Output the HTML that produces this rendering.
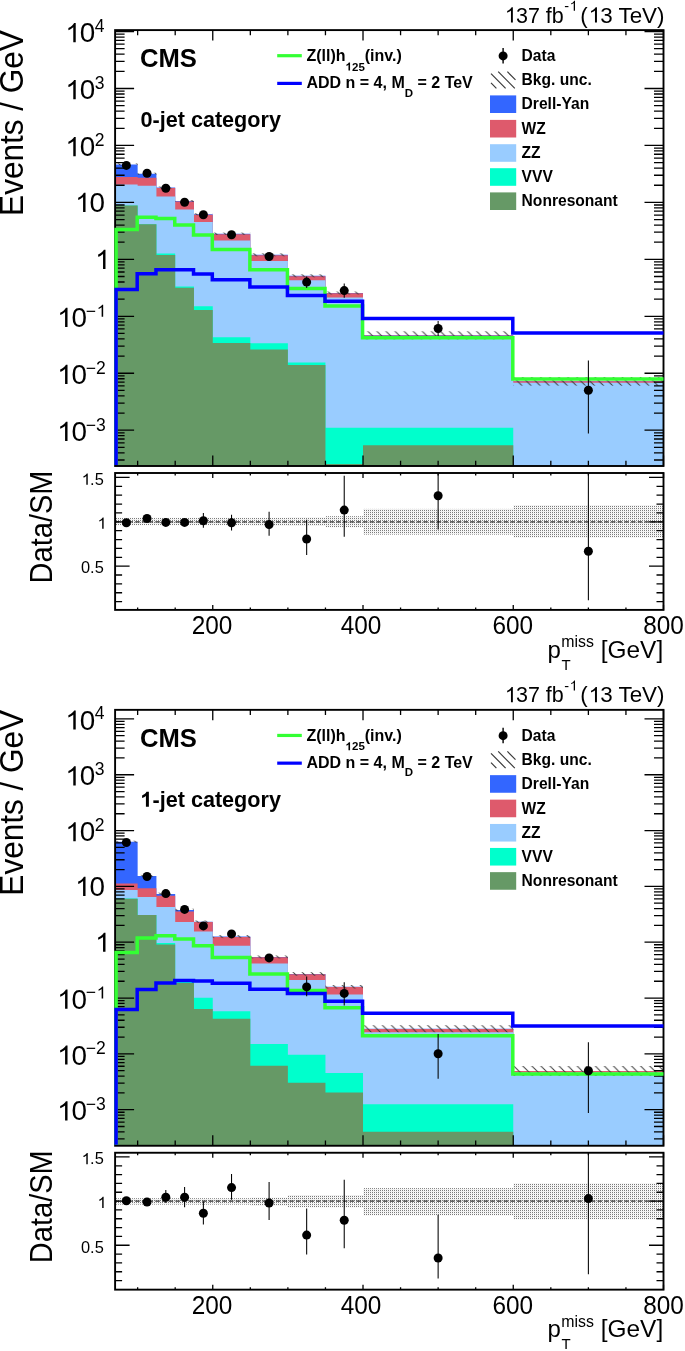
<!DOCTYPE html><html><head><meta charset="utf-8"><style>html,body{margin:0;padding:0;background:#fff;width:685px;height:1351px;overflow:hidden}svg{display:block;will-change:transform}text{font-family:"Liberation Sans", sans-serif;fill:#000}</style></head><body>
<svg width="685" height="1351" viewBox="0 0 685 1351">
<defs><pattern id="hatch" patternUnits="userSpaceOnUse" x="0.42" y="0" width="9.06" height="9.06"><path d="M-1,-1 L10.06,10.06 M-10.06,-1 L1,10.06 M8.06,-1 L19.12,10.06" stroke="#3a3a3a" stroke-width="1.0"/></pattern>
<pattern id="dots" patternUnits="userSpaceOnUse" width="2" height="2"><rect width="2" height="2" fill="#f0f0f0"/><rect x="0" y="0" width="1" height="1" fill="#7a7a7a"/><rect x="1" y="0" width="1" height="1" fill="#ffffff"/></pattern></defs>
<rect width="685" height="1351" fill="#fff"/>
<g>
<path d="M115.1,466 L115.1,164.4 L137.64,164.4 L137.64,173.7 L156.42,173.7 L156.42,187.5 L175.2,187.5 L175.2,201 L193.98,201 L193.98,214.3 L212.76,214.3 L212.76,233.8 L250.32,233.8 L250.32,254.8 L287.88,254.8 L287.88,275.8 L325.45,275.8 L325.45,293 L363.01,293 L363.01,335.3 L513.25,335.3 L513.25,381.3 L663.5,381.3 L663.5,466 Z" fill="#3366ff"/>
<path d="M115.1,466 L115.1,176.9 L137.64,176.9 L137.64,177.7 L156.42,177.7 L156.42,187.9 L175.2,187.9 L175.2,201.5 L193.98,201.5 L193.98,214.7 L212.76,214.7 L212.76,234.2 L250.32,234.2 L250.32,255.2 L287.88,255.2 L287.88,276.2 L325.45,276.2 L325.45,293.3 L363.01,293.3 L363.01,335.5 L513.25,335.5 L513.25,381.3 L663.5,381.3 L663.5,466 Z" fill="#de5a6c"/>
<path d="M115.1,466 L115.1,184.5 L137.64,184.5 L137.64,185.8 L156.42,185.8 L156.42,196.5 L175.2,196.5 L175.2,209.5 L193.98,209.5 L193.98,221.9 L212.76,221.9 L212.76,240.5 L250.32,240.5 L250.32,261.1 L287.88,261.1 L287.88,280.2 L325.45,280.2 L325.45,297.6 L363.01,297.6 L363.01,336.5 L513.25,336.5 L513.25,382.8 L663.5,382.8 L663.5,466 Z" fill="#99ccff"/>
<path d="M115.1,466 L115.1,205.5 L137.64,205.5 L137.64,224.3 L156.42,224.3 L156.42,253.5 L175.2,253.5 L175.2,286.6 L193.98,286.6 L193.98,306.2 L212.76,306.2 L212.76,337.3 L250.32,337.3 L250.32,343.3 L287.88,343.3 L287.88,362.4 L325.45,362.4 L325.45,427.8 L363.01,427.8 L363.01,427.8 L513.25,427.8 L513.25,466 L663.5,466 L663.5,466 Z" fill="#00ffcc"/>
<path d="M115.1,466 L115.1,205.5 L137.64,205.5 L137.64,224.3 L156.42,224.3 L156.42,255 L175.2,255 L175.2,287.7 L193.98,287.7 L193.98,309.9 L212.76,309.9 L212.76,343.1 L250.32,343.1 L250.32,349.6 L287.88,349.6 L287.88,365 L325.45,365 L325.45,463.9 L363.01,463.9 L363.01,445.2 L513.25,445.2 L513.25,466 L663.5,466 L663.5,466 Z" fill="#669966"/>
<rect x="115.1" y="163.4" width="22.54" height="2" fill="url(#hatch)"/>
<rect x="137.64" y="172.7" width="18.78" height="2" fill="url(#hatch)"/>
<rect x="156.42" y="186.5" width="18.78" height="2" fill="url(#hatch)"/>
<rect x="175.2" y="200" width="18.78" height="2" fill="url(#hatch)"/>
<rect x="193.98" y="213.3" width="18.78" height="2" fill="url(#hatch)"/>
<rect x="212.76" y="232.6" width="37.56" height="2.4" fill="url(#hatch)"/>
<rect x="250.32" y="253.3" width="37.56" height="3" fill="url(#hatch)"/>
<rect x="287.88" y="274.3" width="37.56" height="3" fill="url(#hatch)"/>
<rect x="325.45" y="291.5" width="37.56" height="3" fill="url(#hatch)"/>
<rect x="363.01" y="331.3" width="150.25" height="8" fill="url(#hatch)"/>
<rect x="513.25" y="377" width="150.25" height="8.6" fill="url(#hatch)"/>
</g>
<rect x="115.1" y="30.1" width="548.4" height="435.9" fill="none" stroke="#000" stroke-width="1.9"/>
<path d="M115.1,459.98 h9.5 M663.5,459.98 h-9.5 M115.1,452.86 h9.5 M663.5,452.86 h-9.5 M115.1,447.34 h9.5 M663.5,447.34 h-9.5 M115.1,442.83 h9.5 M663.5,442.83 h-9.5 M115.1,439.02 h9.5 M663.5,439.02 h-9.5 M115.1,435.72 h9.5 M663.5,435.72 h-9.5 M115.1,432.81 h9.5 M663.5,432.81 h-9.5 M115.1,430.2 h19 M663.5,430.2 h-19 M115.1,413.06 h9.5 M663.5,413.06 h-9.5 M115.1,403.03 h9.5 M663.5,403.03 h-9.5 M115.1,395.91 h9.5 M663.5,395.91 h-9.5 M115.1,390.39 h9.5 M663.5,390.39 h-9.5 M115.1,385.88 h9.5 M663.5,385.88 h-9.5 M115.1,382.07 h9.5 M663.5,382.07 h-9.5 M115.1,378.77 h9.5 M663.5,378.77 h-9.5 M115.1,375.86 h9.5 M663.5,375.86 h-9.5 M115.1,373.25 h19 M663.5,373.25 h-19 M115.1,356.11 h9.5 M663.5,356.11 h-9.5 M115.1,346.08 h9.5 M663.5,346.08 h-9.5 M115.1,338.96 h9.5 M663.5,338.96 h-9.5 M115.1,333.44 h9.5 M663.5,333.44 h-9.5 M115.1,328.93 h9.5 M663.5,328.93 h-9.5 M115.1,325.12 h9.5 M663.5,325.12 h-9.5 M115.1,321.82 h9.5 M663.5,321.82 h-9.5 M115.1,318.91 h9.5 M663.5,318.91 h-9.5 M115.1,316.3 h19 M663.5,316.3 h-19 M115.1,299.16 h9.5 M663.5,299.16 h-9.5 M115.1,289.13 h9.5 M663.5,289.13 h-9.5 M115.1,282.01 h9.5 M663.5,282.01 h-9.5 M115.1,276.49 h9.5 M663.5,276.49 h-9.5 M115.1,271.98 h9.5 M663.5,271.98 h-9.5 M115.1,268.17 h9.5 M663.5,268.17 h-9.5 M115.1,264.87 h9.5 M663.5,264.87 h-9.5 M115.1,261.96 h9.5 M663.5,261.96 h-9.5 M115.1,259.35 h19 M663.5,259.35 h-19 M115.1,242.21 h9.5 M663.5,242.21 h-9.5 M115.1,232.18 h9.5 M663.5,232.18 h-9.5 M115.1,225.06 h9.5 M663.5,225.06 h-9.5 M115.1,219.54 h9.5 M663.5,219.54 h-9.5 M115.1,215.03 h9.5 M663.5,215.03 h-9.5 M115.1,211.22 h9.5 M663.5,211.22 h-9.5 M115.1,207.92 h9.5 M663.5,207.92 h-9.5 M115.1,205.01 h9.5 M663.5,205.01 h-9.5 M115.1,202.4 h19 M663.5,202.4 h-19 M115.1,185.26 h9.5 M663.5,185.26 h-9.5 M115.1,175.23 h9.5 M663.5,175.23 h-9.5 M115.1,168.11 h9.5 M663.5,168.11 h-9.5 M115.1,162.59 h9.5 M663.5,162.59 h-9.5 M115.1,158.08 h9.5 M663.5,158.08 h-9.5 M115.1,154.27 h9.5 M663.5,154.27 h-9.5 M115.1,150.97 h9.5 M663.5,150.97 h-9.5 M115.1,148.06 h9.5 M663.5,148.06 h-9.5 M115.1,145.45 h19 M663.5,145.45 h-19 M115.1,128.31 h9.5 M663.5,128.31 h-9.5 M115.1,118.28 h9.5 M663.5,118.28 h-9.5 M115.1,111.16 h9.5 M663.5,111.16 h-9.5 M115.1,105.64 h9.5 M663.5,105.64 h-9.5 M115.1,101.13 h9.5 M663.5,101.13 h-9.5 M115.1,97.32 h9.5 M663.5,97.32 h-9.5 M115.1,94.02 h9.5 M663.5,94.02 h-9.5 M115.1,91.11 h9.5 M663.5,91.11 h-9.5 M115.1,88.5 h19 M663.5,88.5 h-19 M115.1,71.36 h9.5 M663.5,71.36 h-9.5 M115.1,61.33 h9.5 M663.5,61.33 h-9.5 M115.1,54.21 h9.5 M663.5,54.21 h-9.5 M115.1,48.69 h9.5 M663.5,48.69 h-9.5 M115.1,44.18 h9.5 M663.5,44.18 h-9.5 M115.1,40.37 h9.5 M663.5,40.37 h-9.5 M115.1,37.07 h9.5 M663.5,37.07 h-9.5 M115.1,34.16 h9.5 M663.5,34.16 h-9.5 M115.1,31.55 h19 M663.5,31.55 h-19 M137.64,466 v-5.2 M137.64,30.1 v5.2 M175.2,466 v-5.2 M175.2,30.1 v5.2 M212.76,466 v-10.5 M212.76,30.1 v10.5 M250.32,466 v-5.2 M250.32,30.1 v5.2 M287.88,466 v-5.2 M287.88,30.1 v5.2 M325.45,466 v-5.2 M325.45,30.1 v5.2 M363.01,466 v-10.5 M363.01,30.1 v10.5 M400.57,466 v-5.2 M400.57,30.1 v5.2 M438.13,466 v-5.2 M438.13,30.1 v5.2 M475.69,466 v-5.2 M475.69,30.1 v5.2 M513.25,466 v-10.5 M513.25,30.1 v10.5 M550.82,466 v-5.2 M550.82,30.1 v5.2 M588.38,466 v-5.2 M588.38,30.1 v5.2 M625.94,466 v-5.2 M625.94,30.1 v5.2 M663.5,466 v-10.5 M663.5,30.1 v10.5" stroke="#000" stroke-width="1.3" fill="none"/>
<clipPath id="clip0"><rect x="113.9" y="30.1" width="550.8" height="435"/></clipPath>
<g clip-path="url(#clip0)">
<path d="M116.1,466 L116.1,229.6 L137.19,229.6 L137.19,217.2 L155.97,217.2 L155.97,218.4 L174.75,218.4 L174.75,225 L193.53,225 L193.53,234.9 L212.31,234.9 L212.31,249.5 L249.87,249.5 L249.87,269.8 L287.43,269.8 L287.43,288.5 L325,288.5 L325,306.1 L362.56,306.1 L362.56,337.8 L512.8,337.8 L512.8,379 L663.5,379" fill="none" stroke="#33ff33" stroke-width="3.5" stroke-linejoin="miter"/>
<path d="M116.1,466 L116.1,289.5 L137.19,289.5 L137.19,273.7 L155.97,273.7 L155.97,269.7 L174.75,269.7 L174.75,269.7 L193.53,269.7 L193.53,274 L212.31,274 L212.31,279.7 L249.87,279.7 L249.87,287 L287.43,287 L287.43,295.4 L325,295.4 L325,301.3 L362.56,301.3 L362.56,318.6 L512.8,318.6 L512.8,333 L663.5,333" fill="none" stroke="#0000ff" stroke-width="3.5" stroke-linejoin="miter"/>
</g>
<circle cx="126.37" cy="165.4" r="4.5" fill="#000"/>
<circle cx="147.03" cy="173.2" r="4.5" fill="#000"/>
<circle cx="165.81" cy="188.2" r="4.5" fill="#000"/>
<circle cx="184.59" cy="202.3" r="4.5" fill="#000"/>
<circle cx="203.37" cy="214.7" r="4.5" fill="#000"/>
<circle cx="231.54" cy="234.7" r="4.5" fill="#000"/>
<circle cx="269.1" cy="256.5" r="4.5" fill="#000"/>
<line x1="306.66" y1="276.6" x2="306.66" y2="287.9" stroke="#000" stroke-width="1.05"/>
<circle cx="306.66" cy="282.1" r="4.5" fill="#000"/>
<line x1="344.23" y1="283.4" x2="344.23" y2="297.8" stroke="#000" stroke-width="1.05"/>
<circle cx="344.23" cy="290.6" r="4.5" fill="#000"/>
<line x1="438.13" y1="321.1" x2="438.13" y2="336" stroke="#000" stroke-width="1.05"/>
<circle cx="438.13" cy="328.5" r="4.5" fill="#000"/>
<line x1="588.38" y1="360.5" x2="588.38" y2="433.6" stroke="#000" stroke-width="1.05"/>
<circle cx="588.38" cy="390.2" r="4.5" fill="#000"/>
<text x="85.75" y="430.6" font-size="17.5">−3</text>
<path transform="translate(56.08,440.9) scale(0.013574,-0.013574)" d="M843 0H663V1100Q598 1040 492 981Q386 922 302 892V1059Q453 1127 566 1224Q679 1321 726 1409H843Z"/><text x="71.54" y="440.9" font-size="27.8">0</text>
<text x="85.75" y="373.65" font-size="17.5">−2</text>
<path transform="translate(56.08,383.95) scale(0.013574,-0.013574)" d="M843 0H663V1100Q598 1040 492 981Q386 922 302 892V1059Q453 1127 566 1224Q679 1321 726 1409H843Z"/><text x="71.54" y="383.95" font-size="27.8">0</text>
<text x="85.75" y="316.7" font-size="17.5">−</text><path transform="translate(95.97,316.7) scale(0.008545,-0.008545)" d="M843 0H663V1100Q598 1040 492 981Q386 922 302 892V1059Q453 1127 566 1224Q679 1321 726 1409H843Z"/>
<path transform="translate(56.08,327) scale(0.013574,-0.013574)" d="M843 0H663V1100Q598 1040 492 981Q386 922 302 892V1059Q453 1127 566 1224Q679 1321 726 1409H843Z"/><text x="71.54" y="327" font-size="27.8">0</text>
<path transform="translate(94.04,268.95) scale(0.013574,-0.013574)" d="M843 0H663V1100Q598 1040 492 981Q386 922 302 892V1059Q453 1127 566 1224Q679 1321 726 1409H843Z"/>
<path transform="translate(74.08,212) scale(0.013574,-0.013574)" d="M843 0H663V1100Q598 1040 492 981Q386 922 302 892V1059Q453 1127 566 1224Q679 1321 726 1409H843Z"/><text x="89.54" y="212" font-size="27.8">0</text>
<text x="94.77" y="145.85" font-size="17.5">2</text>
<path transform="translate(64.28,156.15) scale(0.013574,-0.013574)" d="M843 0H663V1100Q598 1040 492 981Q386 922 302 892V1059Q453 1127 566 1224Q679 1321 726 1409H843Z"/><text x="79.74" y="156.15" font-size="27.8">0</text>
<text x="94.77" y="88.9" font-size="17.5">3</text>
<path transform="translate(64.28,99.2) scale(0.013574,-0.013574)" d="M843 0H663V1100Q598 1040 492 981Q386 922 302 892V1059Q453 1127 566 1224Q679 1321 726 1409H843Z"/><text x="79.74" y="99.2" font-size="27.8">0</text>
<text x="94.77" y="31.95" font-size="17.5">4</text>
<path transform="translate(64.28,42.25) scale(0.013574,-0.013574)" d="M843 0H663V1100Q598 1040 492 981Q386 922 302 892V1059Q453 1127 566 1224Q679 1321 726 1409H843Z"/><text x="79.74" y="42.25" font-size="27.8">0</text>
<rect x="115.1" y="517.8" width="22.54" height="7.4" fill="url(#dots)"/>
<rect x="137.64" y="517.8" width="18.78" height="7.4" fill="url(#dots)"/>
<rect x="156.42" y="517.8" width="18.78" height="7.4" fill="url(#dots)"/>
<rect x="175.2" y="517.8" width="18.78" height="7.4" fill="url(#dots)"/>
<rect x="193.98" y="517.8" width="18.78" height="7.4" fill="url(#dots)"/>
<rect x="212.76" y="517.8" width="37.56" height="7.4" fill="url(#dots)"/>
<rect x="250.32" y="517.8" width="37.56" height="7.7" fill="url(#dots)"/>
<rect x="287.88" y="517.5" width="37.56" height="8.3" fill="url(#dots)"/>
<rect x="325.45" y="516.2" width="37.56" height="11" fill="url(#dots)"/>
<rect x="363.01" y="508.9" width="150.25" height="25.7" fill="url(#dots)"/>
<rect x="513.25" y="505.2" width="150.25" height="32.3" fill="url(#dots)"/>
<line x1="115.1" y1="521.8" x2="663.5" y2="521.8" stroke="#333" stroke-width="1.2" stroke-dasharray="4.5,2.2"/>
<circle cx="126.37" cy="522.8" r="4.5" fill="#000"/>
<circle cx="147.03" cy="518.5" r="4.5" fill="#000"/>
<circle cx="165.81" cy="522.4" r="4.5" fill="#000"/>
<circle cx="184.59" cy="522.4" r="4.5" fill="#000"/>
<line x1="203.37" y1="513" x2="203.37" y2="527.7" stroke="#000" stroke-width="1.05"/>
<circle cx="203.37" cy="520.7" r="4.5" fill="#000"/>
<line x1="231.54" y1="514.7" x2="231.54" y2="530.5" stroke="#000" stroke-width="1.05"/>
<circle cx="231.54" cy="522.8" r="4.5" fill="#000"/>
<line x1="269.1" y1="511.7" x2="269.1" y2="535.8" stroke="#000" stroke-width="1.05"/>
<circle cx="269.1" cy="524.6" r="4.5" fill="#000"/>
<line x1="306.66" y1="519.8" x2="306.66" y2="555.1" stroke="#000" stroke-width="1.05"/>
<circle cx="306.66" cy="539" r="4.5" fill="#000"/>
<line x1="344.23" y1="475.8" x2="344.23" y2="536.8" stroke="#000" stroke-width="1.05"/>
<circle cx="344.23" cy="510.1" r="4.5" fill="#000"/>
<line x1="438.13" y1="473.2" x2="438.13" y2="529.4" stroke="#000" stroke-width="1.05"/>
<circle cx="438.13" cy="495.7" r="4.5" fill="#000"/>
<line x1="588.38" y1="473.2" x2="588.38" y2="600.3" stroke="#000" stroke-width="1.05"/>
<circle cx="588.38" cy="551.3" r="4.5" fill="#000"/>
<rect x="115.1" y="473" width="548.4" height="136.9" fill="none" stroke="#000" stroke-width="1.9"/>
<path d="M115.1,601.63 h7 M663.5,601.63 h-7 M115.1,592.76 h7 M663.5,592.76 h-7 M115.1,583.89 h7 M663.5,583.89 h-7 M115.1,575.02 h7 M663.5,575.02 h-7 M115.1,566.15 h14.5 M663.5,566.15 h-14.5 M115.1,557.28 h7 M663.5,557.28 h-7 M115.1,548.41 h7 M663.5,548.41 h-7 M115.1,539.54 h7 M663.5,539.54 h-7 M115.1,530.67 h7 M663.5,530.67 h-7 M115.1,521.8 h14.5 M663.5,521.8 h-14.5 M115.1,512.93 h7 M663.5,512.93 h-7 M115.1,504.06 h7 M663.5,504.06 h-7 M115.1,495.19 h7 M663.5,495.19 h-7 M115.1,486.32 h7 M663.5,486.32 h-7 M115.1,477.45 h14.5 M663.5,477.45 h-14.5 M137.64,609.9 v-2.5 M137.64,473 v2.5 M175.2,609.9 v-2.5 M175.2,473 v2.5 M212.76,609.9 v-5 M212.76,473 v5 M250.32,609.9 v-2.5 M250.32,473 v2.5 M287.88,609.9 v-2.5 M287.88,473 v2.5 M325.45,609.9 v-2.5 M325.45,473 v2.5 M363.01,609.9 v-5 M363.01,473 v5 M400.57,609.9 v-2.5 M400.57,473 v2.5 M438.13,609.9 v-2.5 M438.13,473 v2.5 M475.69,609.9 v-2.5 M475.69,473 v2.5 M513.25,609.9 v-5 M513.25,473 v5 M550.82,609.9 v-2.5 M550.82,473 v2.5 M588.38,609.9 v-2.5 M588.38,473 v2.5 M625.94,609.9 v-2.5 M625.94,473 v2.5 M663.5,609.9 v-5 M663.5,473 v5" stroke="#000" stroke-width="1.3" fill="none"/>
<path transform="translate(81,484.75) scale(0.008008,-0.008008)" d="M843 0H663V1100Q598 1040 492 981Q386 922 302 892V1059Q453 1127 566 1224Q679 1321 726 1409H843Z"/><text x="90.12" y="484.75" font-size="16.4">.5</text>
<path transform="translate(96.88,528.7) scale(0.008008,-0.008008)" d="M843 0H663V1100Q598 1040 492 981Q386 922 302 892V1059Q453 1127 566 1224Q679 1321 726 1409H843Z"/>
<text x="81" y="573.45" font-size="16.4">0.5</text>
<text x="191.75" y="634.1" font-size="25.2" textLength="40.62" lengthAdjust="spacingAndGlyphs">200</text>
<text x="340.7" y="634.1" font-size="25.2" textLength="40.62" lengthAdjust="spacingAndGlyphs">400</text>
<text x="492.55" y="634.1" font-size="25.2" textLength="40.62" lengthAdjust="spacingAndGlyphs">600</text>
<text x="643.19" y="634.1" font-size="25.2" textLength="40.62" lengthAdjust="spacingAndGlyphs">800</text>
<text x="547.6" y="657.6" font-size="24">p</text>
<text x="561.2" y="647.2" font-size="15.9">miss</text>
<text x="561.5" y="669.6" font-size="15">T</text>
<text x="600.8" y="657.6" font-size="24.4">[GeV]</text>
<text transform="translate(23.1,30.1) rotate(-90)" font-size="33.3" text-anchor="end" textLength="185.8" lengthAdjust="spacingAndGlyphs">Events / GeV</text>
<text transform="translate(52.2,470.5) rotate(-90)" font-size="32" text-anchor="end" textLength="112.9" lengthAdjust="spacingAndGlyphs">Data/SM</text>
<path transform="translate(504,22.6) scale(0.010502,-0.010937)" d="M843 0H663V1100Q598 1040 492 981Q386 922 302 892V1059Q453 1127 566 1224Q679 1321 726 1409H843Z"/><text x="515.96" y="22.6" font-size="22.4" textLength="47.84" lengthAdjust="spacingAndGlyphs">37 fb</text>
<text x="564.2" y="10.8" font-size="14.5">-</text><path transform="translate(569.03,10.8) scale(0.007080,-0.007080)" d="M843 0H663V1100Q598 1040 492 981Q386 922 302 892V1059Q453 1127 566 1224Q679 1321 726 1409H843Z"/>
<text x="580.26" y="22.6" font-size="22.4">(</text><path transform="translate(587.72,22.6) scale(0.010937,-0.010937)" d="M843 0H663V1100Q598 1040 492 981Q386 922 302 892V1059Q453 1127 566 1224Q679 1321 726 1409H843Z"/><text x="600.18" y="22.6" font-size="22.4">3 TeV)</text>
<text x="140" y="66.9" font-size="25.6" font-weight="bold">CMS</text>
<text x="140.5" y="126.9" font-size="21.6" font-weight="bold">0-jet category</text>
<line x1="277.2" y1="55.7" x2="301.8" y2="55.7" stroke="#33ff33" stroke-width="3.2"/>
<line x1="277.2" y1="83.4" x2="301.8" y2="83.4" stroke="#0000ff" stroke-width="3.2"/>
<text x="306.5" y="60.9" font-size="16" font-weight="bold">Z(ll)h</text>
<path transform="translate(345.59,70.5) scale(0.005615,-0.005615)" d="M795 0H514V1018Q360 879 151 813V1058Q261 1093 390 1189Q519 1285 567 1409H795Z"/><text x="351.99" y="70.5" font-size="11.5" font-weight="bold">25</text>
<text x="364.78" y="60.9" font-size="16" font-weight="bold">(inv.)</text>
<text x="306.5" y="87.9" font-size="16" font-weight="bold">ADD n = 4, M<tspan font-size="11.5" dy="8.8">D</tspan><tspan dy="-8.8"> = 2 TeV</tspan></text>
<line x1="503.1" y1="48" x2="503.1" y2="63.5" stroke="#000" stroke-width="1.4"/>
<circle cx="503.1" cy="55.9" r="4.5" fill="#000"/>
<path d="M491,82.9 L496.4,88.3 M491,73.7 L505.6,88.3 M498.2,71.7 L514.8,88.3 M507.4,71.7 L515.5,79.8" stroke="#3a3a3a" stroke-width="1.2" fill="none"/>
<text x="521.6" y="61" font-size="15.6" font-weight="bold">Data</text>
<text x="521.6" y="85.3" font-size="15.6" font-weight="bold">Bkg. unc.</text>
<rect x="490" y="95.4" width="26.2" height="17.6" fill="#3366ff"/>
<text x="521.6" y="109.3" font-size="15.6" font-weight="bold">Drell-Yan</text>
<rect x="490" y="119.9" width="26.2" height="17.6" fill="#de5a6c"/>
<text x="521.6" y="133.8" font-size="15.6" font-weight="bold">WZ</text>
<rect x="490" y="144.2" width="26.2" height="17.6" fill="#99ccff"/>
<text x="521.6" y="158.1" font-size="15.6" font-weight="bold">ZZ</text>
<rect x="490" y="168.2" width="26.2" height="17.6" fill="#00ffcc"/>
<text x="521.6" y="182.1" font-size="15.6" font-weight="bold">VVV</text>
<rect x="490" y="192.4" width="26.2" height="17.6" fill="#669966"/>
<text x="521.6" y="206.3" font-size="15.6" font-weight="bold">Nonresonant</text>
<g>
<path d="M115.1,1145.75 L115.1,841.7 L137.64,841.7 L137.64,875.9 L156.42,875.9 L156.42,893.9 L175.2,893.9 L175.2,909.9 L193.98,909.9 L193.98,921.7 L212.76,921.7 L212.76,936.6 L250.32,936.6 L250.32,957 L287.88,957 L287.88,974 L325.45,974 L325.45,986.8 L363.01,986.8 L363.01,1028.7 L513.25,1028.7 L513.25,1071 L663.5,1071 L663.5,1145.75 Z" fill="#3366ff"/>
<path d="M115.1,1145.75 L115.1,883.4 L137.64,883.4 L137.64,888.3 L156.42,888.3 L156.42,895.7 L175.2,895.7 L175.2,911.5 L193.98,911.5 L193.98,922 L212.76,922 L212.76,936.9 L250.32,936.9 L250.32,957.2 L287.88,957.2 L287.88,974.3 L325.45,974.3 L325.45,987.1 L363.01,987.1 L363.01,1028.9 L513.25,1028.9 L513.25,1071 L663.5,1071 L663.5,1145.75 Z" fill="#de5a6c"/>
<path d="M115.1,1145.75 L115.1,889.9 L137.64,889.9 L137.64,897.1 L156.42,897.1 L156.42,907 L175.2,907 L175.2,921.9 L193.98,921.9 L193.98,931.6 L212.76,931.6 L212.76,945.8 L250.32,945.8 L250.32,963.5 L287.88,963.5 L287.88,979.9 L325.45,979.9 L325.45,994.6 L363.01,994.6 L363.01,1032.3 L513.25,1032.3 L513.25,1072.2 L663.5,1072.2 L663.5,1145.75 Z" fill="#99ccff"/>
<path d="M115.1,1145.75 L115.1,898.5 L137.64,898.5 L137.64,914.9 L156.42,914.9 L156.42,942.9 L175.2,942.9 L175.2,982 L193.98,982 L193.98,997.8 L212.76,997.8 L212.76,1011.2 L250.32,1011.2 L250.32,1043.9 L287.88,1043.9 L287.88,1054.8 L325.45,1054.8 L325.45,1073 L363.01,1073 L363.01,1104.2 L513.25,1104.2 L513.25,1145.75 L663.5,1145.75 L663.5,1145.75 Z" fill="#00ffcc"/>
<path d="M115.1,1145.75 L115.1,898.7 L137.64,898.7 L137.64,915.1 L156.42,915.1 L156.42,944.5 L175.2,944.5 L175.2,983 L193.98,983 L193.98,1009 L212.76,1009 L212.76,1018.8 L250.32,1018.8 L250.32,1065.8 L287.88,1065.8 L287.88,1082.8 L325.45,1082.8 L325.45,1092.4 L363.01,1092.4 L363.01,1131.8 L513.25,1131.8 L513.25,1145.75 L663.5,1145.75 L663.5,1145.75 Z" fill="#669966"/>
<rect x="115.1" y="840.7" width="22.54" height="2" fill="url(#hatch)"/>
<rect x="137.64" y="874.9" width="18.78" height="2" fill="url(#hatch)"/>
<rect x="156.42" y="892.7" width="18.78" height="2.4" fill="url(#hatch)"/>
<rect x="175.2" y="908.7" width="18.78" height="2.4" fill="url(#hatch)"/>
<rect x="193.98" y="920.5" width="18.78" height="2.4" fill="url(#hatch)"/>
<rect x="212.76" y="935.1" width="37.56" height="3" fill="url(#hatch)"/>
<rect x="250.32" y="955.5" width="37.56" height="3" fill="url(#hatch)"/>
<rect x="287.88" y="972.2" width="37.56" height="3.6" fill="url(#hatch)"/>
<rect x="325.45" y="985" width="37.56" height="3.6" fill="url(#hatch)"/>
<rect x="363.01" y="1025.2" width="150.25" height="7" fill="url(#hatch)"/>
<rect x="513.25" y="1066" width="150.25" height="10" fill="url(#hatch)"/>
</g>
<rect x="115.1" y="709.85" width="548.4" height="435.9" fill="none" stroke="#000" stroke-width="1.9"/>
<path d="M115.1,1138.9 h9.5 M663.5,1138.9 h-9.5 M115.1,1131.93 h9.5 M663.5,1131.93 h-9.5 M115.1,1126.52 h9.5 M663.5,1126.52 h-9.5 M115.1,1122.1 h9.5 M663.5,1122.1 h-9.5 M115.1,1118.36 h9.5 M663.5,1118.36 h-9.5 M115.1,1115.12 h9.5 M663.5,1115.12 h-9.5 M115.1,1112.26 h9.5 M663.5,1112.26 h-9.5 M115.1,1109.71 h19 M663.5,1109.71 h-19 M115.1,1092.9 h9.5 M663.5,1092.9 h-9.5 M115.1,1083.07 h9.5 M663.5,1083.07 h-9.5 M115.1,1076.1 h9.5 M663.5,1076.1 h-9.5 M115.1,1070.69 h9.5 M663.5,1070.69 h-9.5 M115.1,1066.27 h9.5 M663.5,1066.27 h-9.5 M115.1,1062.53 h9.5 M663.5,1062.53 h-9.5 M115.1,1059.29 h9.5 M663.5,1059.29 h-9.5 M115.1,1056.43 h9.5 M663.5,1056.43 h-9.5 M115.1,1053.88 h19 M663.5,1053.88 h-19 M115.1,1037.07 h9.5 M663.5,1037.07 h-9.5 M115.1,1027.24 h9.5 M663.5,1027.24 h-9.5 M115.1,1020.27 h9.5 M663.5,1020.27 h-9.5 M115.1,1014.86 h9.5 M663.5,1014.86 h-9.5 M115.1,1010.44 h9.5 M663.5,1010.44 h-9.5 M115.1,1006.7 h9.5 M663.5,1006.7 h-9.5 M115.1,1003.46 h9.5 M663.5,1003.46 h-9.5 M115.1,1000.6 h9.5 M663.5,1000.6 h-9.5 M115.1,998.05 h19 M663.5,998.05 h-19 M115.1,981.24 h9.5 M663.5,981.24 h-9.5 M115.1,971.41 h9.5 M663.5,971.41 h-9.5 M115.1,964.44 h9.5 M663.5,964.44 h-9.5 M115.1,959.03 h9.5 M663.5,959.03 h-9.5 M115.1,954.61 h9.5 M663.5,954.61 h-9.5 M115.1,950.87 h9.5 M663.5,950.87 h-9.5 M115.1,947.63 h9.5 M663.5,947.63 h-9.5 M115.1,944.77 h9.5 M663.5,944.77 h-9.5 M115.1,942.22 h19 M663.5,942.22 h-19 M115.1,925.41 h9.5 M663.5,925.41 h-9.5 M115.1,915.58 h9.5 M663.5,915.58 h-9.5 M115.1,908.61 h9.5 M663.5,908.61 h-9.5 M115.1,903.2 h9.5 M663.5,903.2 h-9.5 M115.1,898.78 h9.5 M663.5,898.78 h-9.5 M115.1,895.04 h9.5 M663.5,895.04 h-9.5 M115.1,891.8 h9.5 M663.5,891.8 h-9.5 M115.1,888.94 h9.5 M663.5,888.94 h-9.5 M115.1,886.39 h19 M663.5,886.39 h-19 M115.1,869.58 h9.5 M663.5,869.58 h-9.5 M115.1,859.75 h9.5 M663.5,859.75 h-9.5 M115.1,852.78 h9.5 M663.5,852.78 h-9.5 M115.1,847.37 h9.5 M663.5,847.37 h-9.5 M115.1,842.95 h9.5 M663.5,842.95 h-9.5 M115.1,839.21 h9.5 M663.5,839.21 h-9.5 M115.1,835.97 h9.5 M663.5,835.97 h-9.5 M115.1,833.11 h9.5 M663.5,833.11 h-9.5 M115.1,830.56 h19 M663.5,830.56 h-19 M115.1,813.75 h9.5 M663.5,813.75 h-9.5 M115.1,803.92 h9.5 M663.5,803.92 h-9.5 M115.1,796.95 h9.5 M663.5,796.95 h-9.5 M115.1,791.54 h9.5 M663.5,791.54 h-9.5 M115.1,787.12 h9.5 M663.5,787.12 h-9.5 M115.1,783.38 h9.5 M663.5,783.38 h-9.5 M115.1,780.14 h9.5 M663.5,780.14 h-9.5 M115.1,777.28 h9.5 M663.5,777.28 h-9.5 M115.1,774.73 h19 M663.5,774.73 h-19 M115.1,757.92 h9.5 M663.5,757.92 h-9.5 M115.1,748.09 h9.5 M663.5,748.09 h-9.5 M115.1,741.12 h9.5 M663.5,741.12 h-9.5 M115.1,735.71 h9.5 M663.5,735.71 h-9.5 M115.1,731.29 h9.5 M663.5,731.29 h-9.5 M115.1,727.55 h9.5 M663.5,727.55 h-9.5 M115.1,724.31 h9.5 M663.5,724.31 h-9.5 M115.1,721.45 h9.5 M663.5,721.45 h-9.5 M115.1,718.9 h19 M663.5,718.9 h-19 M137.64,1145.75 v-5.2 M137.64,709.85 v5.2 M175.2,1145.75 v-5.2 M175.2,709.85 v5.2 M212.76,1145.75 v-10.5 M212.76,709.85 v10.5 M250.32,1145.75 v-5.2 M250.32,709.85 v5.2 M287.88,1145.75 v-5.2 M287.88,709.85 v5.2 M325.45,1145.75 v-5.2 M325.45,709.85 v5.2 M363.01,1145.75 v-10.5 M363.01,709.85 v10.5 M400.57,1145.75 v-5.2 M400.57,709.85 v5.2 M438.13,1145.75 v-5.2 M438.13,709.85 v5.2 M475.69,1145.75 v-5.2 M475.69,709.85 v5.2 M513.25,1145.75 v-10.5 M513.25,709.85 v10.5 M550.82,1145.75 v-5.2 M550.82,709.85 v5.2 M588.38,1145.75 v-5.2 M588.38,709.85 v5.2 M625.94,1145.75 v-5.2 M625.94,709.85 v5.2 M663.5,1145.75 v-10.5 M663.5,709.85 v10.5" stroke="#000" stroke-width="1.3" fill="none"/>
<clipPath id="clip679"><rect x="113.9" y="709.85" width="550.8" height="435"/></clipPath>
<g clip-path="url(#clip679)">
<path d="M116.1,1145.75 L116.1,952.6 L137.19,952.6 L137.19,938.1 L155.97,938.1 L155.97,935.7 L174.75,935.7 L174.75,938.9 L193.53,938.9 L193.53,945.8 L212.31,945.8 L212.31,957.4 L249.87,957.4 L249.87,974 L287.43,974 L287.43,990.4 L325,990.4 L325,1007.8 L362.56,1007.8 L362.56,1035.8 L512.8,1035.8 L512.8,1074 L663.5,1074" fill="none" stroke="#33ff33" stroke-width="3.5" stroke-linejoin="miter"/>
<path d="M116.1,1145.75 L116.1,1009.6 L137.19,1009.6 L137.19,989.5 L155.97,989.5 L155.97,983.1 L174.75,983.1 L174.75,980.5 L193.53,980.5 L193.53,980.9 L212.31,980.9 L212.31,983.2 L249.87,983.2 L249.87,989.2 L287.43,989.2 L287.43,993.4 L325,993.4 L325,1001.3 L362.56,1001.3 L362.56,1013.3 L512.8,1013.3 L512.8,1026 L663.5,1026" fill="none" stroke="#0000ff" stroke-width="3.5" stroke-linejoin="miter"/>
</g>
<circle cx="126.37" cy="842.5" r="4.5" fill="#000"/>
<circle cx="147.03" cy="876.5" r="4.5" fill="#000"/>
<circle cx="165.81" cy="893.6" r="4.5" fill="#000"/>
<circle cx="184.59" cy="909.4" r="4.5" fill="#000"/>
<circle cx="203.37" cy="925.9" r="4.5" fill="#000"/>
<circle cx="231.54" cy="933.9" r="4.5" fill="#000"/>
<circle cx="269.1" cy="957.9" r="4.5" fill="#000"/>
<line x1="306.66" y1="976.6" x2="306.66" y2="996.2" stroke="#000" stroke-width="1.05"/>
<circle cx="306.66" cy="986.9" r="4.5" fill="#000"/>
<line x1="344.23" y1="982.2" x2="344.23" y2="1005.6" stroke="#000" stroke-width="1.05"/>
<circle cx="344.23" cy="993.4" r="4.5" fill="#000"/>
<line x1="438.13" y1="1034.1" x2="438.13" y2="1078.8" stroke="#000" stroke-width="1.05"/>
<circle cx="438.13" cy="1053.7" r="4.5" fill="#000"/>
<line x1="588.38" y1="1042.2" x2="588.38" y2="1112.9" stroke="#000" stroke-width="1.05"/>
<circle cx="588.38" cy="1070.7" r="4.5" fill="#000"/>
<text x="85.75" y="1110.11" font-size="17.5">−3</text>
<path transform="translate(56.08,1120.41) scale(0.013574,-0.013574)" d="M843 0H663V1100Q598 1040 492 981Q386 922 302 892V1059Q453 1127 566 1224Q679 1321 726 1409H843Z"/><text x="71.54" y="1120.41" font-size="27.8">0</text>
<text x="85.75" y="1054.28" font-size="17.5">−2</text>
<path transform="translate(56.08,1064.58) scale(0.013574,-0.013574)" d="M843 0H663V1100Q598 1040 492 981Q386 922 302 892V1059Q453 1127 566 1224Q679 1321 726 1409H843Z"/><text x="71.54" y="1064.58" font-size="27.8">0</text>
<text x="85.75" y="998.45" font-size="17.5">−</text><path transform="translate(95.97,998.45) scale(0.008545,-0.008545)" d="M843 0H663V1100Q598 1040 492 981Q386 922 302 892V1059Q453 1127 566 1224Q679 1321 726 1409H843Z"/>
<path transform="translate(56.08,1008.75) scale(0.013574,-0.013574)" d="M843 0H663V1100Q598 1040 492 981Q386 922 302 892V1059Q453 1127 566 1224Q679 1321 726 1409H843Z"/><text x="71.54" y="1008.75" font-size="27.8">0</text>
<path transform="translate(94.04,951.82) scale(0.013574,-0.013574)" d="M843 0H663V1100Q598 1040 492 981Q386 922 302 892V1059Q453 1127 566 1224Q679 1321 726 1409H843Z"/>
<path transform="translate(74.08,895.99) scale(0.013574,-0.013574)" d="M843 0H663V1100Q598 1040 492 981Q386 922 302 892V1059Q453 1127 566 1224Q679 1321 726 1409H843Z"/><text x="89.54" y="895.99" font-size="27.8">0</text>
<text x="94.77" y="830.96" font-size="17.5">2</text>
<path transform="translate(64.28,841.26) scale(0.013574,-0.013574)" d="M843 0H663V1100Q598 1040 492 981Q386 922 302 892V1059Q453 1127 566 1224Q679 1321 726 1409H843Z"/><text x="79.74" y="841.26" font-size="27.8">0</text>
<text x="94.77" y="775.13" font-size="17.5">3</text>
<path transform="translate(64.28,785.43) scale(0.013574,-0.013574)" d="M843 0H663V1100Q598 1040 492 981Q386 922 302 892V1059Q453 1127 566 1224Q679 1321 726 1409H843Z"/><text x="79.74" y="785.43" font-size="27.8">0</text>
<text x="94.77" y="719.3" font-size="17.5">4</text>
<path transform="translate(64.28,729.6) scale(0.013574,-0.013574)" d="M843 0H663V1100Q598 1040 492 981Q386 922 302 892V1059Q453 1127 566 1224Q679 1321 726 1409H843Z"/><text x="79.74" y="729.6" font-size="27.8">0</text>
<rect x="115.1" y="1198.2" width="22.54" height="6.4" fill="url(#dots)"/>
<rect x="137.64" y="1198.2" width="18.78" height="6.4" fill="url(#dots)"/>
<rect x="156.42" y="1198.2" width="18.78" height="6.4" fill="url(#dots)"/>
<rect x="175.2" y="1198.2" width="18.78" height="6.4" fill="url(#dots)"/>
<rect x="193.98" y="1198.2" width="18.78" height="6.4" fill="url(#dots)"/>
<rect x="212.76" y="1198.2" width="37.56" height="6.4" fill="url(#dots)"/>
<rect x="250.32" y="1197.7" width="37.56" height="7.9" fill="url(#dots)"/>
<rect x="287.88" y="1195" width="37.56" height="12.3" fill="url(#dots)"/>
<rect x="325.45" y="1195" width="37.56" height="12.3" fill="url(#dots)"/>
<rect x="363.01" y="1188.1" width="150.25" height="27.2" fill="url(#dots)"/>
<rect x="513.25" y="1183.5" width="150.25" height="35.7" fill="url(#dots)"/>
<line x1="115.1" y1="1201.1" x2="663.5" y2="1201.1" stroke="#333" stroke-width="1.2" stroke-dasharray="4.5,2.2"/>
<circle cx="126.37" cy="1200.7" r="4.5" fill="#000"/>
<circle cx="147.03" cy="1202" r="4.5" fill="#000"/>
<line x1="165.81" y1="1190.1" x2="165.81" y2="1203" stroke="#000" stroke-width="1.05"/>
<circle cx="165.81" cy="1197.2" r="4.5" fill="#000"/>
<line x1="184.59" y1="1186.9" x2="184.59" y2="1207.2" stroke="#000" stroke-width="1.05"/>
<circle cx="184.59" cy="1197.2" r="4.5" fill="#000"/>
<line x1="203.37" y1="1201.4" x2="203.37" y2="1224.5" stroke="#000" stroke-width="1.05"/>
<circle cx="203.37" cy="1213.3" r="4.5" fill="#000"/>
<line x1="231.54" y1="1174.1" x2="231.54" y2="1199.8" stroke="#000" stroke-width="1.05"/>
<circle cx="231.54" cy="1187.6" r="4.5" fill="#000"/>
<line x1="269.1" y1="1182.1" x2="269.1" y2="1220" stroke="#000" stroke-width="1.05"/>
<circle cx="269.1" cy="1203" r="4.5" fill="#000"/>
<line x1="306.66" y1="1208.4" x2="306.66" y2="1254.4" stroke="#000" stroke-width="1.05"/>
<circle cx="306.66" cy="1235.1" r="4.5" fill="#000"/>
<line x1="344.23" y1="1179.7" x2="344.23" y2="1248.3" stroke="#000" stroke-width="1.05"/>
<circle cx="344.23" cy="1220.2" r="4.5" fill="#000"/>
<line x1="438.13" y1="1214.8" x2="438.13" y2="1278.6" stroke="#000" stroke-width="1.05"/>
<circle cx="438.13" cy="1258" r="4.5" fill="#000"/>
<line x1="588.38" y1="1152.75" x2="588.38" y2="1274.3" stroke="#000" stroke-width="1.05"/>
<circle cx="588.38" cy="1198.6" r="4.5" fill="#000"/>
<rect x="115.1" y="1152.75" width="548.4" height="136.9" fill="none" stroke="#000" stroke-width="1.9"/>
<path d="M115.1,1280.57 h7 M663.5,1280.57 h-7 M115.1,1271.74 h7 M663.5,1271.74 h-7 M115.1,1262.91 h7 M663.5,1262.91 h-7 M115.1,1254.08 h7 M663.5,1254.08 h-7 M115.1,1245.25 h14.5 M663.5,1245.25 h-14.5 M115.1,1236.42 h7 M663.5,1236.42 h-7 M115.1,1227.59 h7 M663.5,1227.59 h-7 M115.1,1218.76 h7 M663.5,1218.76 h-7 M115.1,1209.93 h7 M663.5,1209.93 h-7 M115.1,1201.1 h14.5 M663.5,1201.1 h-14.5 M115.1,1192.27 h7 M663.5,1192.27 h-7 M115.1,1183.44 h7 M663.5,1183.44 h-7 M115.1,1174.61 h7 M663.5,1174.61 h-7 M115.1,1165.78 h7 M663.5,1165.78 h-7 M115.1,1156.95 h14.5 M663.5,1156.95 h-14.5 M137.64,1289.65 v-2.5 M137.64,1152.75 v2.5 M175.2,1289.65 v-2.5 M175.2,1152.75 v2.5 M212.76,1289.65 v-5 M212.76,1152.75 v5 M250.32,1289.65 v-2.5 M250.32,1152.75 v2.5 M287.88,1289.65 v-2.5 M287.88,1152.75 v2.5 M325.45,1289.65 v-2.5 M325.45,1152.75 v2.5 M363.01,1289.65 v-5 M363.01,1152.75 v5 M400.57,1289.65 v-2.5 M400.57,1152.75 v2.5 M438.13,1289.65 v-2.5 M438.13,1152.75 v2.5 M475.69,1289.65 v-2.5 M475.69,1152.75 v2.5 M513.25,1289.65 v-5 M513.25,1152.75 v5 M550.82,1289.65 v-2.5 M550.82,1152.75 v2.5 M588.38,1289.65 v-2.5 M588.38,1152.75 v2.5 M625.94,1289.65 v-2.5 M625.94,1152.75 v2.5 M663.5,1289.65 v-5 M663.5,1152.75 v5" stroke="#000" stroke-width="1.3" fill="none"/>
<path transform="translate(81,1164.25) scale(0.008008,-0.008008)" d="M843 0H663V1100Q598 1040 492 981Q386 922 302 892V1059Q453 1127 566 1224Q679 1321 726 1409H843Z"/><text x="90.12" y="1164.25" font-size="16.4">.5</text>
<path transform="translate(96.88,1208) scale(0.008008,-0.008008)" d="M843 0H663V1100Q598 1040 492 981Q386 922 302 892V1059Q453 1127 566 1224Q679 1321 726 1409H843Z"/>
<text x="81" y="1252.55" font-size="16.4">0.5</text>
<text x="191.75" y="1313.85" font-size="25.2" textLength="40.62" lengthAdjust="spacingAndGlyphs">200</text>
<text x="340.7" y="1313.85" font-size="25.2" textLength="40.62" lengthAdjust="spacingAndGlyphs">400</text>
<text x="492.55" y="1313.85" font-size="25.2" textLength="40.62" lengthAdjust="spacingAndGlyphs">600</text>
<text x="643.19" y="1313.85" font-size="25.2" textLength="40.62" lengthAdjust="spacingAndGlyphs">800</text>
<text x="547.6" y="1337.35" font-size="24">p</text>
<text x="561.2" y="1326.95" font-size="15.9">miss</text>
<text x="561.5" y="1349.35" font-size="15">T</text>
<text x="600.8" y="1337.35" font-size="24.4">[GeV]</text>
<text transform="translate(23.1,709.85) rotate(-90)" font-size="33.3" text-anchor="end" textLength="185.8" lengthAdjust="spacingAndGlyphs">Events / GeV</text>
<text transform="translate(52.2,1150.25) rotate(-90)" font-size="32" text-anchor="end" textLength="112.9" lengthAdjust="spacingAndGlyphs">Data/SM</text>
<path transform="translate(504,702.35) scale(0.010502,-0.010937)" d="M843 0H663V1100Q598 1040 492 981Q386 922 302 892V1059Q453 1127 566 1224Q679 1321 726 1409H843Z"/><text x="515.96" y="702.35" font-size="22.4" textLength="47.84" lengthAdjust="spacingAndGlyphs">37 fb</text>
<text x="564.2" y="690.55" font-size="14.5">-</text><path transform="translate(569.03,690.55) scale(0.007080,-0.007080)" d="M843 0H663V1100Q598 1040 492 981Q386 922 302 892V1059Q453 1127 566 1224Q679 1321 726 1409H843Z"/>
<text x="580.26" y="702.35" font-size="22.4">(</text><path transform="translate(587.72,702.35) scale(0.010937,-0.010937)" d="M843 0H663V1100Q598 1040 492 981Q386 922 302 892V1059Q453 1127 566 1224Q679 1321 726 1409H843Z"/><text x="600.18" y="702.35" font-size="22.4">3 TeV)</text>
<text x="140" y="746.65" font-size="25.6" font-weight="bold">CMS</text>
<path transform="translate(140.5,806.65) scale(0.010547,-0.010547)" d="M795 0H514V1018Q360 879 151 813V1058Q261 1093 390 1189Q519 1285 567 1409H795Z"/><text x="152.51" y="806.65" font-size="21.6" font-weight="bold">-jet category</text>
<line x1="277.2" y1="735.45" x2="301.8" y2="735.45" stroke="#33ff33" stroke-width="3.2"/>
<line x1="277.2" y1="763.15" x2="301.8" y2="763.15" stroke="#0000ff" stroke-width="3.2"/>
<text x="306.5" y="740.65" font-size="16" font-weight="bold">Z(ll)h</text>
<path transform="translate(345.59,750.25) scale(0.005615,-0.005615)" d="M795 0H514V1018Q360 879 151 813V1058Q261 1093 390 1189Q519 1285 567 1409H795Z"/><text x="351.99" y="750.25" font-size="11.5" font-weight="bold">25</text>
<text x="364.78" y="740.65" font-size="16" font-weight="bold">(inv.)</text>
<text x="306.5" y="767.65" font-size="16" font-weight="bold">ADD n = 4, M<tspan font-size="11.5" dy="8.8">D</tspan><tspan dy="-8.8"> = 2 TeV</tspan></text>
<line x1="503.1" y1="727.75" x2="503.1" y2="743.25" stroke="#000" stroke-width="1.4"/>
<circle cx="503.1" cy="735.65" r="4.5" fill="#000"/>
<path d="M491,762.65 L496.4,768.05 M491,753.45 L505.6,768.05 M498.2,751.45 L514.8,768.05 M507.4,751.45 L515.5,759.55" stroke="#3a3a3a" stroke-width="1.2" fill="none"/>
<text x="521.6" y="740.75" font-size="15.6" font-weight="bold">Data</text>
<text x="521.6" y="765.05" font-size="15.6" font-weight="bold">Bkg. unc.</text>
<rect x="490" y="775.15" width="26.2" height="17.6" fill="#3366ff"/>
<text x="521.6" y="789.05" font-size="15.6" font-weight="bold">Drell-Yan</text>
<rect x="490" y="799.65" width="26.2" height="17.6" fill="#de5a6c"/>
<text x="521.6" y="813.55" font-size="15.6" font-weight="bold">WZ</text>
<rect x="490" y="823.95" width="26.2" height="17.6" fill="#99ccff"/>
<text x="521.6" y="837.85" font-size="15.6" font-weight="bold">ZZ</text>
<rect x="490" y="847.95" width="26.2" height="17.6" fill="#00ffcc"/>
<text x="521.6" y="861.85" font-size="15.6" font-weight="bold">VVV</text>
<rect x="490" y="872.15" width="26.2" height="17.6" fill="#669966"/>
<text x="521.6" y="886.05" font-size="15.6" font-weight="bold">Nonresonant</text>
</svg></body></html>
